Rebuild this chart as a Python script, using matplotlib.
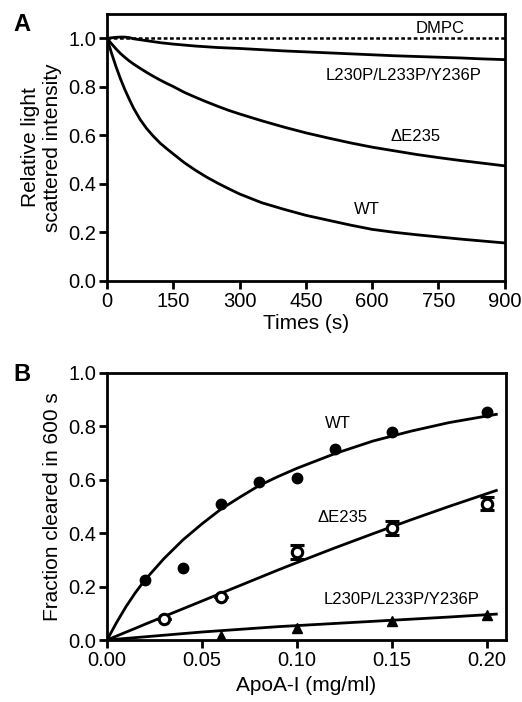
import matplotlib
matplotlib.use("Agg")
import matplotlib.pyplot as plt

plt.rcParams['font.family'] = ['Liberation Sans', 'DejaVu Sans']

# Panel A - light scattering time courses
time_s = [0, 10, 20, 30, 40, 50, 60, 75, 90, 105, 120, 135, 150, 175, 200, 225, 250, 275,
          300, 350, 400, 450, 500, 550, 600, 650, 700, 750, 800, 850, 900]
wt_curve = [1.0, 0.94, 0.885, 0.835, 0.79, 0.75, 0.712, 0.665, 0.627, 0.596, 0.568, 0.545, 0.523,
            0.487, 0.456, 0.428, 0.403, 0.38, 0.358, 0.322, 0.295, 0.27, 0.25, 0.23, 0.212,
            0.2, 0.19, 0.181, 0.172, 0.164, 0.156]
de235_curve = [1.0, 0.978, 0.957, 0.938, 0.922, 0.907, 0.894, 0.876, 0.859, 0.843, 0.828, 0.814,
               0.801, 0.777, 0.757, 0.738, 0.72, 0.703, 0.688, 0.66, 0.634, 0.61, 0.589, 0.569,
               0.551, 0.536, 0.521, 0.508, 0.496, 0.485, 0.474]
triple_curve = [1.0, 1.002, 1.004, 1.005, 1.005, 1.003, 0.998, 0.994, 0.99, 0.986, 0.982, 0.979,
                0.976, 0.972, 0.968, 0.965, 0.962, 0.96, 0.958, 0.953, 0.948, 0.944, 0.94, 0.936,
                0.932, 0.928, 0.925, 0.922, 0.919, 0.915, 0.912]
dmpc_curve = [1.0] * len(time_s)

# Panel B - fraction cleared in 600 s
wt_x = [0.02, 0.04, 0.06, 0.08, 0.10, 0.12, 0.15, 0.20]
wt_y = [0.225, 0.268, 0.51, 0.59, 0.605, 0.715, 0.78, 0.855]
de_x = [0.03, 0.06, 0.10, 0.15, 0.20]
de_y = [0.08, 0.16, 0.33, 0.42, 0.51]
de_err = [0.0, 0.0, 0.025, 0.025, 0.025]
tr_x = [0.06, 0.10, 0.15, 0.20]
tr_y = [0.015, 0.045, 0.07, 0.095]

# fitted curves
fit_x = [0.0, 0.005, 0.01, 0.015, 0.02, 0.03, 0.04, 0.05, 0.06, 0.07, 0.08, 0.09, 0.10,
         0.12, 0.14, 0.16, 0.18, 0.205]
wt_fit = [0.0, 0.065, 0.125, 0.178, 0.225, 0.305, 0.375, 0.435, 0.49, 0.535, 0.578, 0.612,
          0.643, 0.698, 0.745, 0.782, 0.814, 0.845]
de_fit = [0.0, 0.0148, 0.0295, 0.044, 0.059, 0.088, 0.117, 0.146, 0.175, 0.204, 0.233, 0.262,
          0.29, 0.345, 0.398, 0.45, 0.50, 0.56]
tr_fit = [0.0, 0.003, 0.006, 0.009, 0.012, 0.018, 0.024, 0.03, 0.035, 0.04, 0.045, 0.05,
          0.054, 0.062, 0.07, 0.078, 0.086, 0.097]

fig = plt.figure(figsize=(5.22, 7.02), dpi=100)
axA = fig.add_axes([0.205, 0.6, 0.762, 0.38])
axB = fig.add_axes([0.205, 0.0883, 0.764, 0.3804])

LW = 2.0
TICK_FS = 14.5
LAB_FS = 15
ANN_FS = 12

# ---- Panel A ----
axA.plot(time_s, dmpc_curve, color='black', lw=1.8, ls=(0, (1.5, 1)))
axA.plot(time_s, triple_curve, color='black', lw=LW, solid_joinstyle='round')
axA.plot(time_s, de235_curve, color='black', lw=LW, solid_joinstyle='round')
axA.plot(time_s, wt_curve, color='black', lw=LW, solid_joinstyle='round')
axA.set_xlim(0, 900)
axA.set_ylim(0, 1.1)
axA.set_xticks([0, 150, 300, 450, 600, 750, 900])
axA.set_yticks([0.0, 0.2, 0.4, 0.6, 0.8, 1.0])
axA.set_yticklabels(['0.0', '0.2', '0.4', '0.6', '0.8', '1.0'])
axA.set_xlabel('Times (s)', fontsize=LAB_FS, labelpad=2)
axA.set_ylabel('Relative light\nscattered intensity', fontsize=LAB_FS, labelpad=4)
axA.text(753, 1.04, 'DMPC', fontsize=ANN_FS, ha='center', va='center')
axA.text(672, 0.846, 'L230P/L233P/Y236P', fontsize=ANN_FS, ha='center', va='center')
axA.text(699, 0.593, '\u0394E235', fontsize=ANN_FS, ha='center', va='center')
axA.text(588, 0.295, 'WT', fontsize=ANN_FS, ha='center', va='center')
fig.text(0.025, 0.965, 'A', fontsize=17, fontweight='bold', va='center')

# ---- Panel B ----
axB.plot(fit_x, wt_fit, color='black', lw=LW, solid_joinstyle='round')
axB.plot(fit_x, de_fit, color='black', lw=LW, solid_joinstyle='round')
axB.plot(fit_x, tr_fit, color='black', lw=LW, solid_joinstyle='round')
axB.plot(wt_x, wt_y, 'o', color='black', ms=7.5)
axB.errorbar(de_x, de_y, yerr=de_err, fmt='o', mfc='white', mec='black', mew=2.2,
             ms=7.5, ecolor='black', elinewidth=2, capsize=5, capthick=2)
axB.plot(tr_x, tr_y, '^', color='black', ms=7.5)
axB.set_xlim(0, 0.21)
axB.set_ylim(0, 1.0)
axB.set_xticks([0.0, 0.05, 0.10, 0.15, 0.20])
axB.set_xticklabels(['0.00', '0.05', '0.10', '0.15', '0.20'])
axB.set_yticks([0.0, 0.2, 0.4, 0.6, 0.8, 1.0])
axB.set_yticklabels(['0.0', '0.2', '0.4', '0.6', '0.8', '1.0'])
axB.set_xlabel('ApoA-I (mg/ml)', fontsize=LAB_FS, labelpad=4)
axB.set_ylabel('Fraction cleared in 600 s', fontsize=LAB_FS, labelpad=4)
axB.text(0.1216, 0.81, 'WT', fontsize=ANN_FS, ha='center', va='center')
axB.text(0.124, 0.46, '\u0394E235', fontsize=ANN_FS, ha='center', va='center')
axB.text(0.155, 0.153, 'L230P/L233P/Y236P', fontsize=ANN_FS, ha='center', va='center')
fig.text(0.025, 0.466, 'B', fontsize=17, fontweight='bold', va='center')

for ax in (axA, axB):
    for s in ax.spines.values():
        s.set_linewidth(2)
    ax.tick_params(direction='out', length=6, width=2, labelsize=TICK_FS, pad=2,
                   top=False, right=False)

fig.savefig('out.png', dpi=100)
